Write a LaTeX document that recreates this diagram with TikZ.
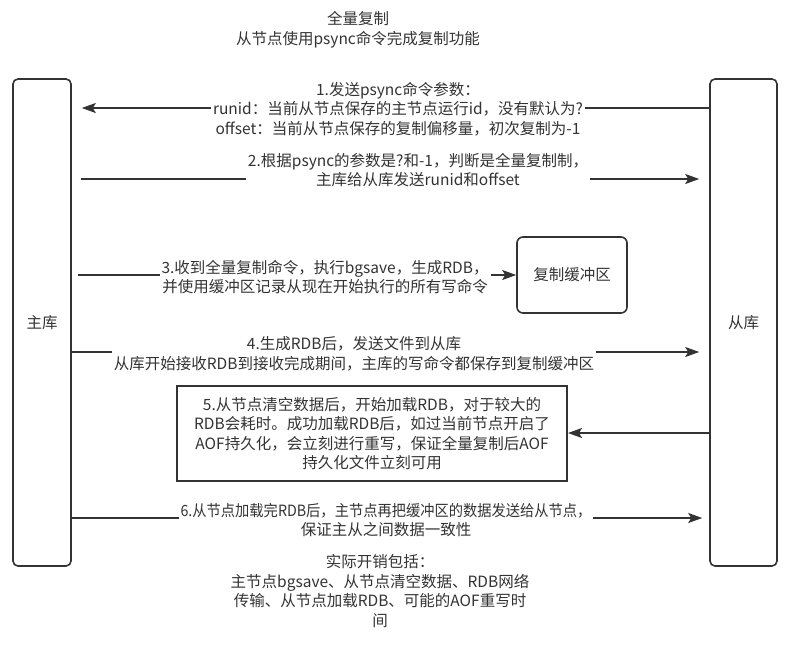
\documentclass[tikz,border=0pt]{standalone}
\usepackage{fontspec}
\setmainfont{Noto Sans CJK SC}
\usetikzlibrary{arrows.meta}
\definecolor{ink}{HTML}{333333}
\tikzset{
  body/.style={font=\fontsize{15.5}{19.5}\selectfont, text=ink, align=center},
  mainbox/.style={draw=ink, line width=1.6pt, rounded corners=5pt, body},
  bufbox/.style={draw=ink, line width=1.6pt, rounded corners=6pt, body},
  stepbox/.style={draw=ink, line width=2pt, body},
  lbl/.style={body, fill=white, inner xsep=2pt, inner ysep=1pt},
  conn/.style={draw=ink, line width=1.6pt},
  arr/.style={conn, -{Stealth[length=14pt,width=10pt,inset=3pt]}},
}
\begin{document}
\begin{tikzpicture}[x=1pt,y=-1pt]
\useasboundingbox (0,0) rectangle (795,646);
% title
\node[body, font=\fontsize{15.5}{20}\selectfont] (title) at (358,30) {全量复制\\从节点使用psync命令完成复制功能};
% boxes
\node[mainbox, minimum width=58, minimum height=487] (M) at (42,322.5) {主库};
\node[mainbox, minimum width=67, minimum height=487] (S) at (743.5,322.5) {从库};
\node[bufbox, minimum width=110, minimum height=76] (B) at (572,275) {复制缓冲区};
\node[stepbox, minimum width=390, minimum height=95] (F) at (372,433.5)
  {5.从节点清空数据后，开始加载RDB，对于较大的\\RDB会耗时。成功加载RDB后，如过当前节点开启了\\AOF持久化，会立刻进行重写，保证全量复制后AOF\\持久化文件立刻可用};
% connectors
\draw[arr, shorten >=10pt] (S.west |- 0,108) -- (M.east |- 0,108);
\draw[arr, shorten <=9pt, shorten >=10pt] (M.east |- 0,179) -- (S.west |- 0,179);
\draw[arr, shorten <=6pt] (M.east |- 0,275) -- (B.west |- 0,275);
\draw[arr, shorten >=10pt] (M.east |- 0,352) -- (S.west |- 0,352);
\draw[arr] (S.west |- 0,433) -- (F.east |- 0,433);
\draw[arr, shorten >=7pt] (M.east |- 0,518) -- (S.west |- 0,518);
% labels
\node[lbl] (t1) at (398,109) {1.发送psync命令参数：\\runid：当前从节点保存的主节点运行id，没有默认为?\\offset：当前从节点保存的复制偏移量，初次复制为-1};
\node[lbl] (t2) at (418,170) {2.根据psync的参数是?和-1，判断是全量复制制，\\主库给从库发送runid和offset};
\node[lbl] (t3) at (325,277) {3.收到全量复制命令，执行bgsave，生成RDB，\\并使用缓冲区记录从现在开始执行的所有写命令};
\node[lbl] (t4) at (354,354) {4.生成RDB后，发送文件到从库\\从库开始接收RDB到接收完成期间，主库的写命令都保存到复制缓冲区};
\node[lbl] (t6) at (386,520) {\scalebox{0.92}[1]{6.从节点加载完RDB后，主节点再把缓冲区的数据发送给从节点，}\\保证主从之间数据一致性};
\node[body] (note) at (380,591) {实际开销包括：\\主节点bgsave、从节点清空数据、RDB网络\\传输、从节点加载RDB、可能的AOF重写时\\间};
\end{tikzpicture}
\end{document}
